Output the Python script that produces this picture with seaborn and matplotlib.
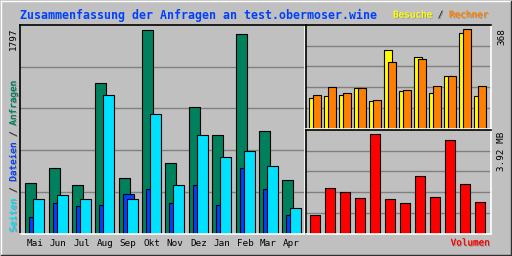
import numpy as np
import matplotlib
matplotlib.use('Agg')
import matplotlib.pyplot as plt
import matplotlib.patheffects as pe
from matplotlib.lines import Line2D
import seaborn as sns

# data (Webalizer summary)
months = ['Mai', 'Jun', 'Jul', 'Aug', 'Sep', 'Okt', 'Nov', 'Dez', 'Jan', 'Feb', 'Mar', 'Apr']
anfragen = [449, 573, 423, 1330, 493, 1797, 617, 1110, 872, 1753, 907, 467]
dateien = [141, 273, 238, 255, 344, 388, 273, 423, 255, 573, 388, 167]
seiten = [308, 335, 300, 1224, 308, 1057, 423, 872, 678, 731, 599, 229]
besuche = [113, 121, 125, 151, 102, 293, 140, 267, 132, 196, 353, 121]
rechner = [125, 155, 132, 151, 106, 248, 143, 259, 158, 196, 368, 158]
volumen_mb = [0.73, 1.81, 1.65, 1.41, 3.92, 1.37, 1.21, 2.29, 1.45, 3.68, 1.97, 1.25]

BG = '#C0C0C0'
GREEN, BLUE, CYAN = '#00805C', '#0040FF', '#00E0FF'
YELLOW, ORANGE, RED = '#FFFF00', '#FF8000', '#FF0000'
GRID = '#808080'
DARK = '#404040'
MONO = 'DejaVu Sans Mono'
FS = 6.7

plt.rcParams['font.family'] = MONO

W, H = 512, 256
fig = plt.figure(figsize=(W / 100, H / 100), dpi=100, facecolor=BG)


def panel(x0, y0, x1, y1):
    ax = fig.add_axes([x0 / W, 1 - y1 / H, (x1 - x0) / W, (y1 - y0) / H])
    ax.set_facecolor(BG)
    for s in ['top', 'left']:
        ax.spines[s].set_color('black')
        ax.spines[s].set_linewidth(1.2)
    for s in ['bottom', 'right']:
        ax.spines[s].set_color('white')
        ax.spines[s].set_linewidth(1.2)
    return ax


def bars(ax, pos, vals, w, color):
    sns.barplot(x=pos, y=vals, native_scale=True, width=w, color=color,
                saturation=1, edgecolor='black', linewidth=0.8,
                errorbar=None, orient='v', ax=ax)


def finish(ax, xl, ytop):
    ax.set_xlim(xl)
    ax.set_ylim(0, ytop)
    ax.set_yticks([ytop * k / 5 for k in range(1, 5)])
    ax.yaxis.grid(True, color=GRID, linewidth=1.0)
    ax.set_axisbelow(True)
    ax.tick_params(length=0, labelleft=False)
    ax.set_xlabel('')
    ax.set_ylabel('')


idx = np.arange(len(months))

# main panel: Anfragen / Dateien / Seiten
ax = panel(20, 25, 304.5, 233.5)
step = 23.36
w = 11 / step
off = 4 / step
bars(ax, idx + w / 2, anfragen, w, GREEN)
bars(ax, idx + off + w / 2, dateien, w, BLUE)
bars(ax, idx + 2 * off + w / 2, seiten, w, CYAN)
finish(ax, (-0.227, -0.227 + 284.5 / step), 1797 * 208.5 / 204)
ax.set_xticks(idx + off + w / 2)
ax.set_xticklabels(months, fontsize=FS)
ax.tick_params(axis='x', pad=4.3, labelbottom=True)

# top right: Besuche / Rechner
ax2 = panel(305.5, 25, 491, 128.5)
w2 = 0.5
off2 = 4 / 15
bars(ax2, idx + w2 / 2, besuche, w2, YELLOW)
bars(ax2, idx + off2 + w2 / 2, rechner, w2, ORANGE)
finish(ax2, (-0.253, -0.253 + 185.5 / 15), 368 * 103.5 / 99.2)
ax2.tick_params(labelbottom=False)

# bottom right: Volumen
ax3 = panel(305.5, 130, 491, 233.5)
w3 = 9.3 / 15
bars(ax3, idx + w3 / 2, volumen_mb, w3, RED)
finish(ax3, (-0.32, -0.32 + 185.5 / 15), 3.92 * 103.5 / 99.2)
ax3.tick_params(labelbottom=False)

shadow = [pe.withSimplePatchShadow(offset=(0.7, -0.7), shadow_rgbFace='#909090', alpha=1), pe.Normal()]


def layered(x, y, parts, **kw):
    full = ''.join(p for p, _ in parts)
    pos = 0
    for p, c in parts:
        s = ' ' * pos + p + ' ' * (len(full) - pos - len(p))
        fig.text(x / W, 1 - y / H, s, color=c, fontsize=FS, path_effects=shadow, **kw)
        pos += len(p)


# texts
fig.text(20 / W, 1 - 15 / H, 'Zusammenfassung der Anfragen an test.obermoser.wine',
         color=BLUE, fontsize=8.4, fontweight='bold', va='center', ha='left')
layered(393, 15, [('Besuche', YELLOW), (' / ', DARK), ('Rechner', ORANGE)],
        ha='left', va='center')
layered(13.5, 232, [('Seiten', CYAN), (' / ', DARK), ('Dateien', BLUE), (' / ', DARK), ('Anfragen', GREEN)],
        rotation=90, ha='center', va='bottom')
fig.text(13.5 / W, 1 - 27 / H, '1797', rotation=90, ha='center', va='top', fontsize=FS, color='black')
fig.text(501.5 / W, 1 - 28 / H, '368', rotation=90, ha='center', va='top', fontsize=FS, color='black')
fig.text(501.5 / W, 1 - 132 / H, '3.92 MB', rotation=90, ha='center', va='top', fontsize=FS, color='black')
fig.text(490 / W, 1 - 243 / H, 'Volumen', ha='right', va='center', fontsize=FS, color=RED,
         path_effects=shadow)

# 3d outer frame
fig.add_artist(Line2D([1 / W, 510.5 / W], [1 - 1 / H, 1 - 1 / H], color='white', lw=1))
fig.add_artist(Line2D([1 / W, 1 / W], [1 - 1 / H, 1 - 254.5 / H], color='white', lw=1))
fig.add_artist(Line2D([1 / W, 511 / W], [1 - 255 / H, 1 - 255 / H], color='#303030', lw=1))
fig.add_artist(Line2D([511 / W, 511 / W], [1 - 1 / H, 1 - 255 / H], color='#303030', lw=1))

fig.savefig('out.png', dpi=100, facecolor=BG)
